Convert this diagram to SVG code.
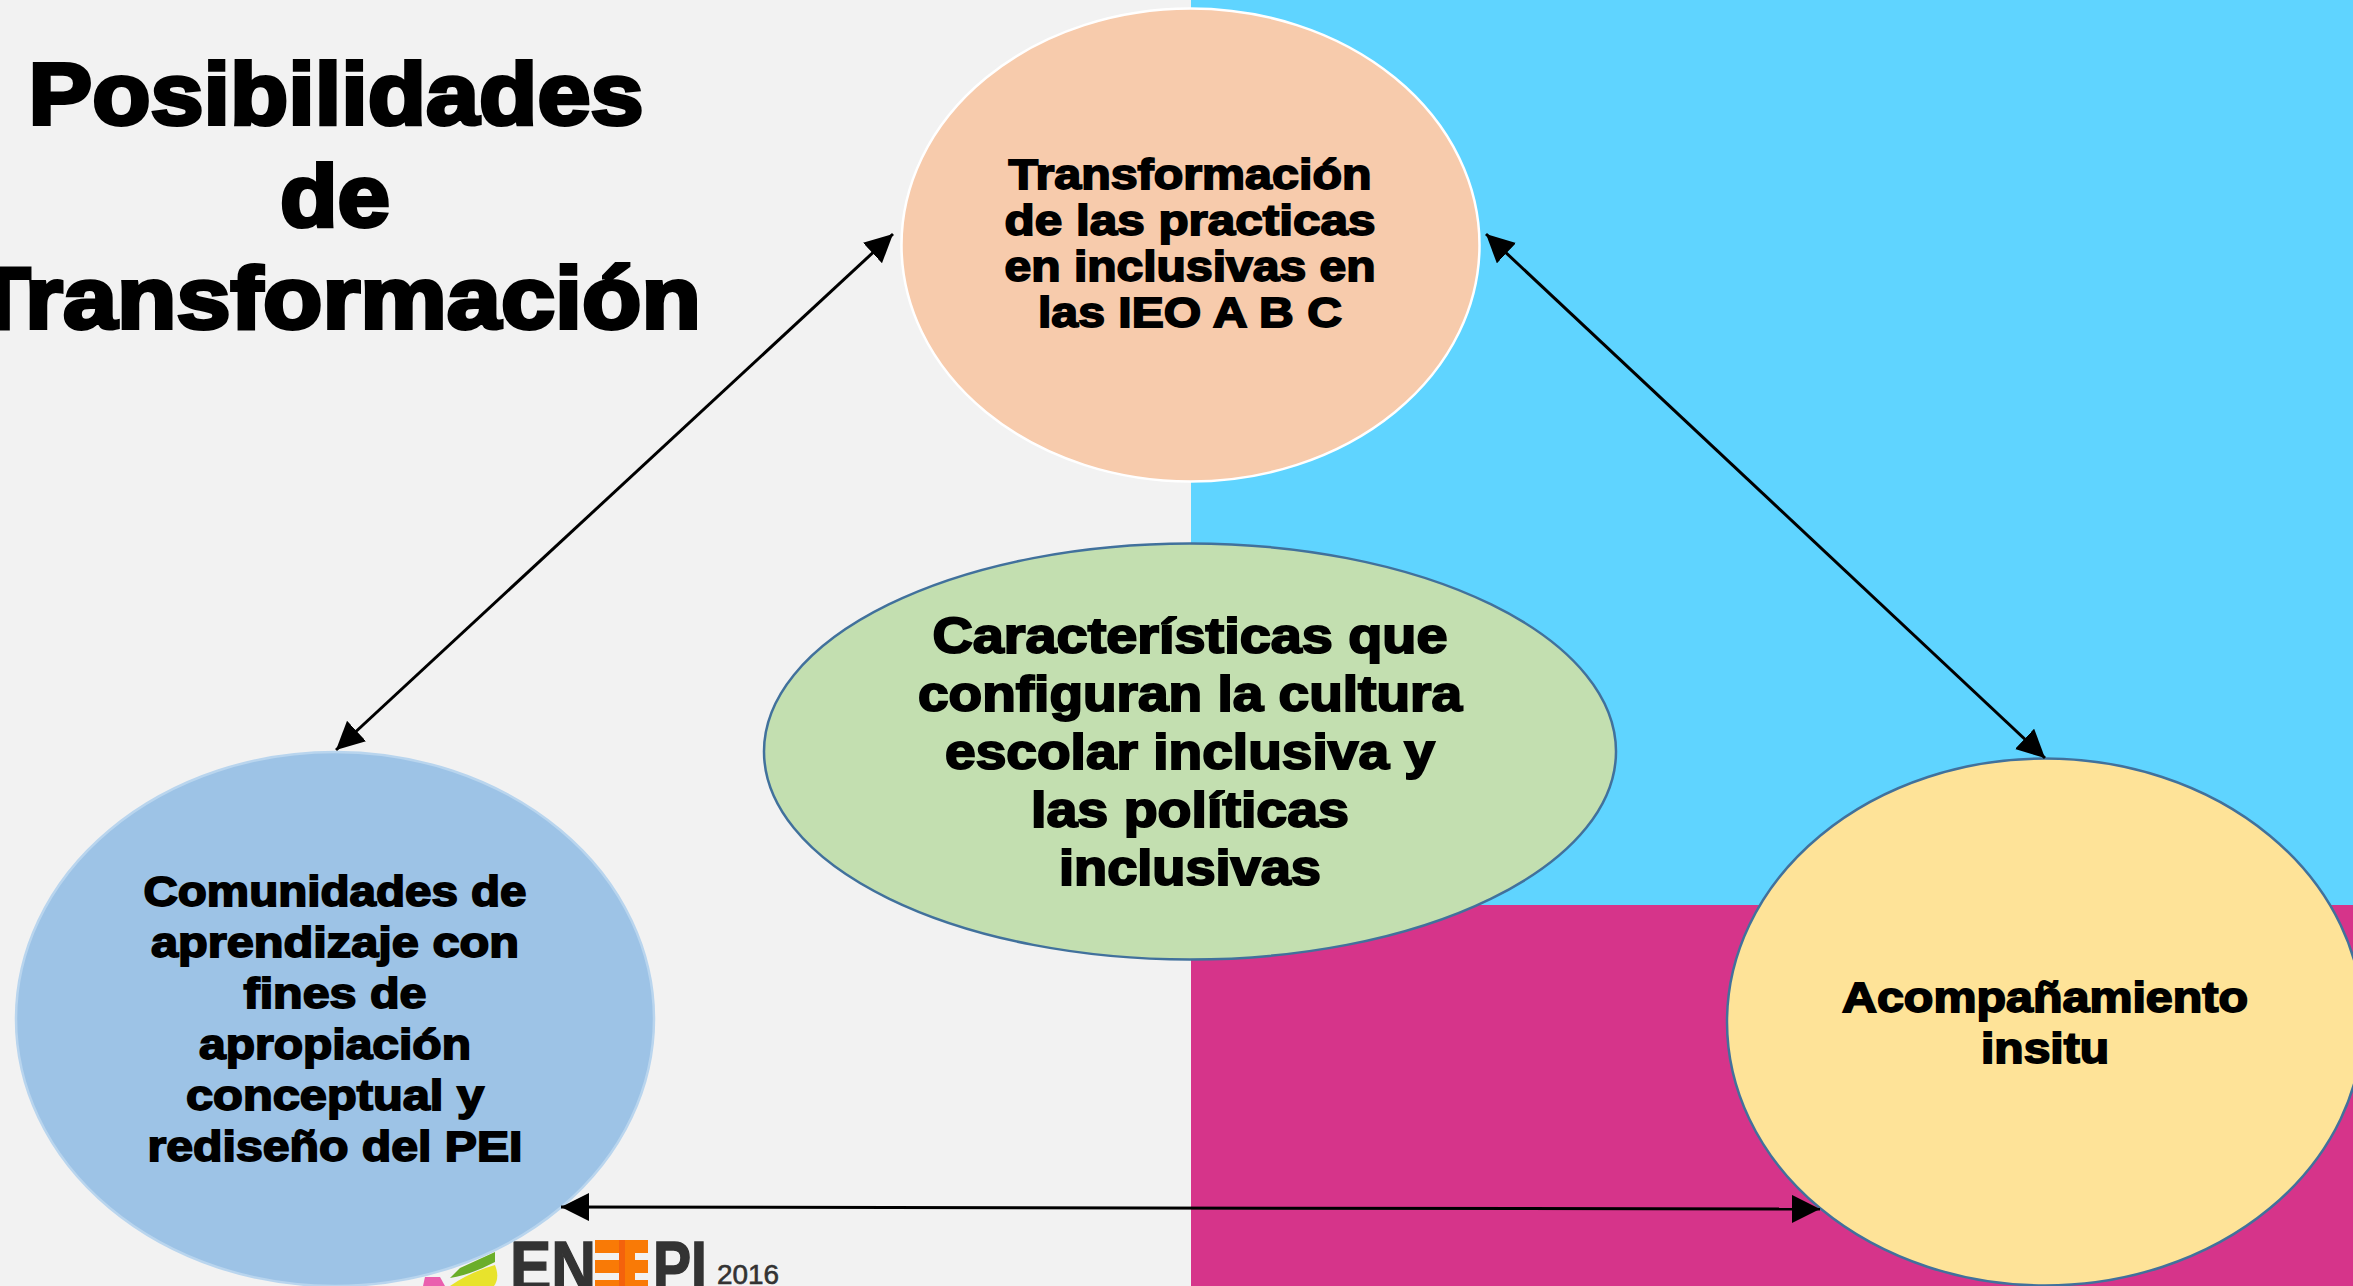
<svg xmlns="http://www.w3.org/2000/svg" width="2353" height="1286" viewBox="0 0 2353 1286">
<style>
text{font-family:"Liberation Sans",Arial,sans-serif;font-weight:700;fill:#000;stroke:#000;text-anchor:middle}
.t{font-size:88px;stroke-width:3.8px}
.n{font-size:43px;stroke-width:1.8px}
.c{font-size:50px;stroke-width:2px}
.link{stroke:#000;stroke-width:3;fill:none;marker-start:url(#a);marker-end:url(#a)}
.l{fill:#333;stroke:#333;stroke-width:1.5px;font-size:70px;text-anchor:start}
</style>
<defs><marker id="a" markerUnits="userSpaceOnUse" markerWidth="30" markerHeight="30" refX="28" refY="14" orient="auto-start-reverse"><path d="M0 0L28 14L0 28Z" fill="#000"/></marker></defs>
<rect width="2353" height="1286" fill="#f2f2f2"/>
<rect x="1191" width="1162" height="905" fill="#5fd4ff"/>
<rect x="1191" y="905" width="1162" height="381" fill="#d6348a"/>
<g id="logo">
<path d="M495 1252L495 1262Q470 1275 450 1278L460 1268Z" fill="#6aae2a"/>
<path d="M450 1286Q470 1272 495 1265Q500 1278 494 1286Z" fill="#e8e32c"/>
<path d="M423 1286L425 1277L440 1277L445 1286Z" fill="#ea5fae"/>
<text class="l" x="510" y="1291" textLength="86" lengthAdjust="spacingAndGlyphs">EN</text>
<path d="M595 1240H648V1253H635V1260H648V1273H635V1280H648V1286H595V1280H622V1273H595V1260H622V1253H595Z" fill="#f97a06"/>
<path d="M622 1240V1286" stroke="#f4620c" stroke-width="6"/>
<text class="l" x="653" y="1291" textLength="54" lengthAdjust="spacingAndGlyphs">PI</text>
<text class="l" x="717" y="1284" style="font-size:27px;font-weight:400;stroke-width:.6px" textLength="62" lengthAdjust="spacingAndGlyphs">2016</text>
</g>
<g id="title">
<text class="t" x="336" y="124" textLength="615" lengthAdjust="spacingAndGlyphs">Posibilidades</text>
<text class="t" x="335" y="226" textLength="110" lengthAdjust="spacingAndGlyphs">de</text>
<text class="t" x="336" y="328" textLength="730" lengthAdjust="spacingAndGlyphs">Transformación</text>
</g>
<g id="node-top">
<ellipse cx="1190.5" cy="245" rx="289" ry="236.5" fill="#f7cbac" stroke="#fff" stroke-width="2.5"/>
<text class="n" x="1190" y="189" textLength="363" lengthAdjust="spacingAndGlyphs">Transformación</text>
<text class="n" x="1190" y="235" textLength="371" lengthAdjust="spacingAndGlyphs">de las practicas</text>
<text class="n" x="1190" y="281" textLength="371" lengthAdjust="spacingAndGlyphs">en inclusivas en</text>
<text class="n" x="1190" y="327" textLength="304" lengthAdjust="spacingAndGlyphs">las IEO A B C</text>
</g>
<g id="node-center">
<ellipse cx="1190" cy="751.5" rx="426" ry="208" fill="#c3dfb0" stroke="#41719c" stroke-width="2.5"/>
<text class="c" x="1190" y="653" textLength="515" lengthAdjust="spacingAndGlyphs">Características que</text>
<text class="c" x="1190" y="711" textLength="544" lengthAdjust="spacingAndGlyphs">configuran la cultura</text>
<text class="c" x="1190" y="769" textLength="490" lengthAdjust="spacingAndGlyphs">escolar inclusiva y</text>
<text class="c" x="1190" y="827" textLength="318" lengthAdjust="spacingAndGlyphs">las políticas</text>
<text class="c" x="1190" y="885" textLength="262" lengthAdjust="spacingAndGlyphs">inclusivas</text>
</g>
<g id="node-left">
<ellipse cx="335" cy="1019" rx="319" ry="267" fill="#9dc3e6" stroke="#b9d5ee" stroke-width="2.5"/>
<text class="n" x="335" y="906" textLength="383" lengthAdjust="spacingAndGlyphs">Comunidades de</text>
<text class="n" x="335" y="957" textLength="368" lengthAdjust="spacingAndGlyphs">aprendizaje con</text>
<text class="n" x="335" y="1008" textLength="183" lengthAdjust="spacingAndGlyphs">fines de</text>
<text class="n" x="335" y="1059" textLength="272" lengthAdjust="spacingAndGlyphs">apropiación</text>
<text class="n" x="335" y="1110" textLength="298" lengthAdjust="spacingAndGlyphs">conceptual y</text>
<text class="n" x="335" y="1161" textLength="375" lengthAdjust="spacingAndGlyphs">rediseño del PEI</text>
</g>
<g id="node-right">
<ellipse cx="2045" cy="1022" rx="318" ry="263.5" fill="#fee398" stroke="#41719c" stroke-width="2.5"/>
<text class="n" x="2045" y="1012" textLength="406" lengthAdjust="spacingAndGlyphs">Acompañamiento</text>
<text class="n" x="2045" y="1063" textLength="128" lengthAdjust="spacingAndGlyphs">insitu</text>
</g>
<g id="connectors">
<line class="link" x1="336" y1="750" x2="893" y2="234"/>
<line class="link" x1="1486" y1="234" x2="2045" y2="758"/>
<line class="link" x1="561" y1="1207" x2="1820" y2="1209"/>
</g>
</svg>
